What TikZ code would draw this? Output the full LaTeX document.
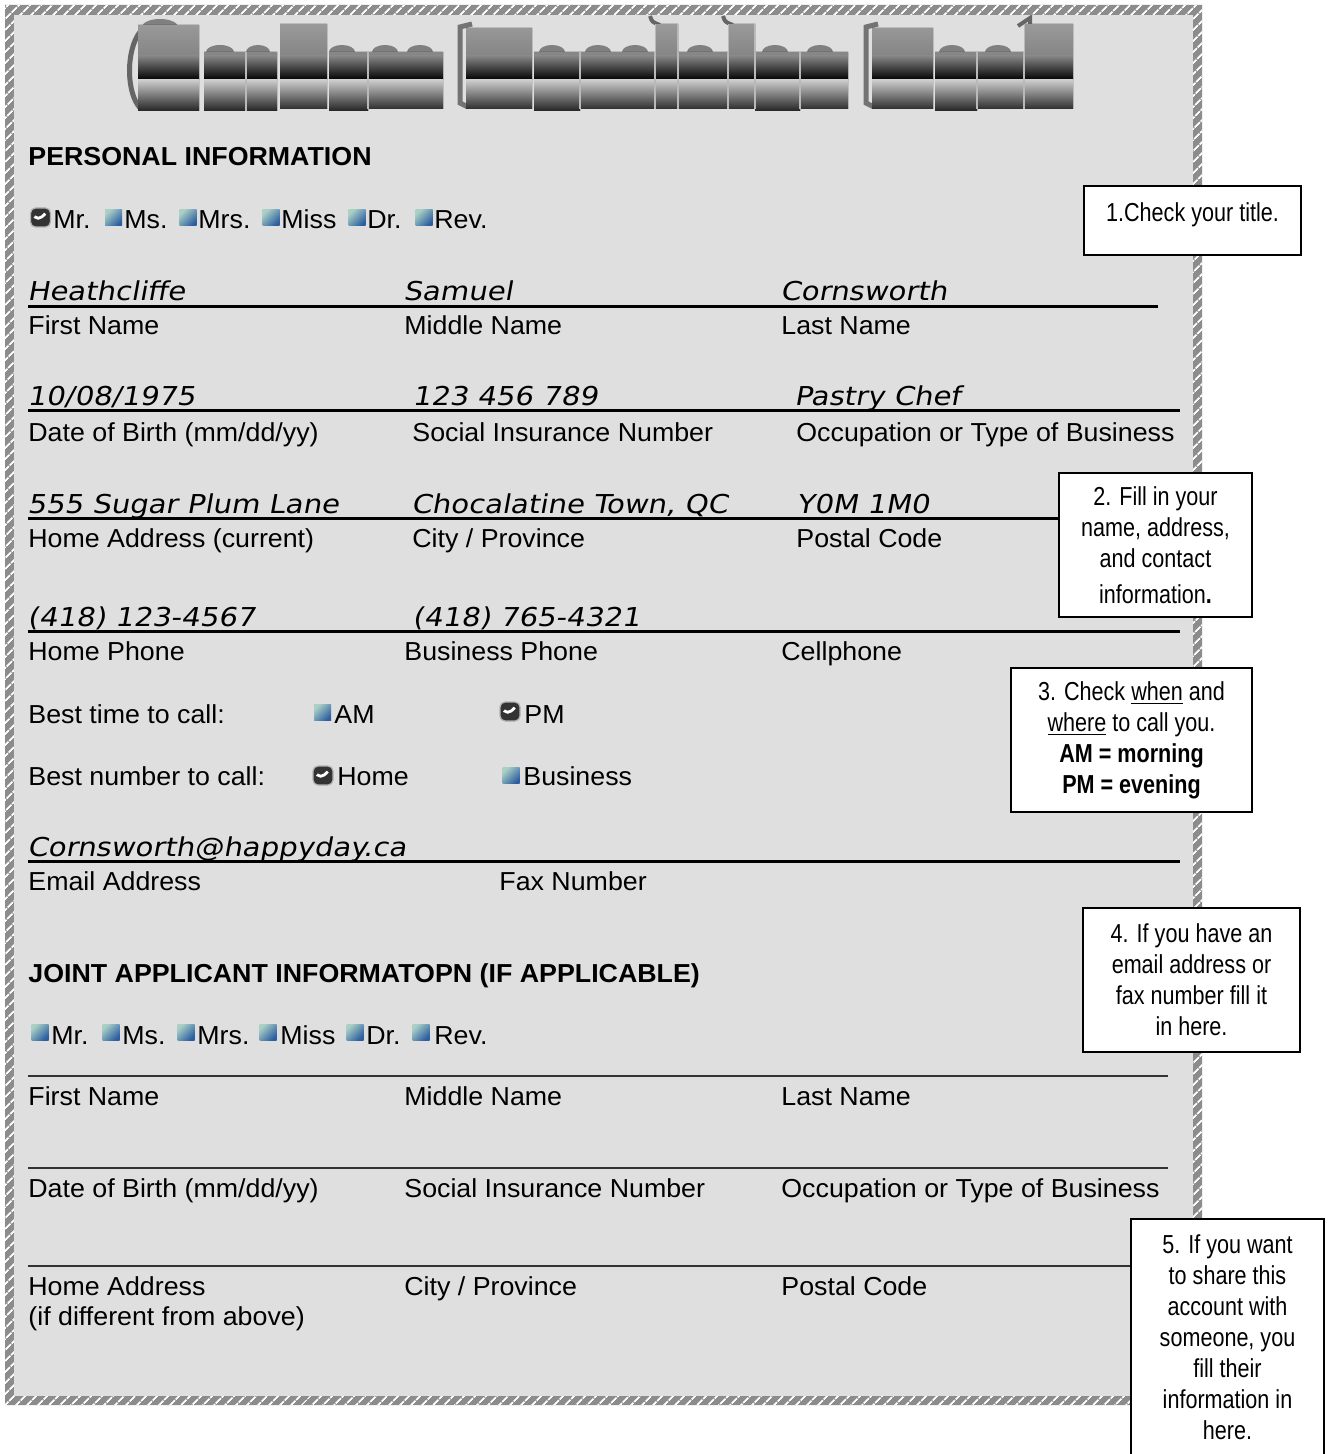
\documentclass[tikz,border=0pt]{standalone}
\usepackage{fontspec}
\setmainfont[FakeStretch=1.03]{Liberation Sans}
\newfontfamily\handfont[FakeSlant=0.18,FakeStretch=1.12]{DejaVu Sans}
\newfontfamily\narrowfont[FakeStretch=0.83]{Liberation Sans}
\usepackage{tikz}
\usetikzlibrary{patterns.meta}
\definecolor{formgray}{RGB}{223,223,223}
\definecolor{hatchgray}{RGB}{140,140,140}
\definecolor{boxlight}{RGB}{170,208,198}
\definecolor{boxdark}{RGB}{45,95,160}

\begin{document}
\begin{tikzpicture}[x=0.5pt, y=-0.5pt, inner sep=0pt,
        label_style/.style={anchor=base west, font=\fontsize{13pt}{15.5pt}\selectfont},
        heading_style/.style={anchor=base west, font=\fontsize{13pt}{15.5pt}\selectfont\bfseries},
        entry_style/.style={anchor=base west, font=\handfont\fontsize{13pt}{15.5pt}\selectfont},
        box_on_style/.style={rectangle, rounded corners=2.5pt, minimum width=10pt, minimum height=9.5pt,
            fill=black!80, draw=gray!60, line width=0.6pt,
            path picture={\draw[white, line width=1.4pt, line join=miter]
                ([xshift=-3pt, yshift=0.4pt]path picture bounding box.center)
                -- ++(1.8pt,-1.8pt) -- ++(3.6pt,3.3pt);}},
        box_off_style/.style={rectangle, minimum width=8.5pt, minimum height=8pt,
            top color=boxlight, bottom color=boxdark, shading angle=45},
        tip_style/.style={draw=black, line width=1pt, fill=white, align=center,
            font=\narrowfont\fontsize{13pt}{15.5pt}\selectfont},
        field_line/.style={draw=black, line width=1.5pt},
        blank_line/.style={draw=black!80, line width=0.9pt},
        art_gap/.style={draw=gray!55, line width=0.7pt}]

        \useasboundingbox[fill=white] (0,0) rectangle (1327,1454);

        \fill[hatchgray, even odd rule] (5,5) rectangle (1202,1405) (14,15) rectangle (1193,1396);
        \fill[pattern={Lines[angle=45,distance=4pt,line width=1pt]}, pattern color=white, even odd rule]
            (5,5) rectangle (1202,1405) (14,15) rectangle (1193,1396);
        \fill[formgray] (14,15) rectangle (1193,1396);

        \fill[black!50] (220,52) ellipse (14 and 7) (258,52) ellipse (12 and 7) (342,52) ellipse (13 and 7)
            (385,52) ellipse (13 and 7) (420,52) ellipse (13 and 7) (552,52) ellipse (13 and 7)
            (598,52) ellipse (13 and 7) (635,52) ellipse (13 and 7) (700,52) ellipse (13 and 7)
            (775,52) ellipse (13 and 7) (820,52) ellipse (13 and 7) (952,52) ellipse (13 and 7)
            (998,52) ellipse (13 and 7) (160,27) ellipse (18 and 8);
        \draw[black!60, line width=2.5pt] (140,32) .. controls (126,50) and (126,92) .. (140,108);
        \draw[black!55, line width=2.5pt] (472,24) -- (460,27) -- (460,103) -- (468,107);
        \draw[black!55, line width=2.5pt] (878,24) -- (866,27) -- (866,103) -- (874,107);
        \draw[black!60, line width=2pt] (650,16) .. controls (652,22) .. (660,25);
        \draw[black!60, line width=2pt] (723,16) .. controls (725,22) .. (733,25);
        \draw[black!60, line width=2pt] (1018,26) -- (1030,18) -- (1030,30);
        \begin{scope}
            \clip (138,25) rectangle (199,111) (204,52) rectangle (246,111) (246,52) rectangle (277,111)
                (280,24) rectangle (327,109) (329,52) rectangle (368,111) (368,52) rectangle (443,109)
                (466,28) rectangle (532,109) (534,52) rectangle (580,111) (580,52) rectangle (655,109)
                (655,24) rectangle (678,109) (678,52) rectangle (728,109) (728,24) rectangle (755,109)
                (755,52) rectangle (800,111) (800,52) rectangle (848,109) (872,28) rectangle (933,109)
                (935,52) rectangle (977,111) (977,52) rectangle (1024,109) (1024,24) rectangle (1073,109);
            \fill[top color=black!38, bottom color=black!48] (130,18) rectangle (1080,56);
            \fill[top color=black!48, bottom color=black] (130,56) rectangle (1080,80);
            \fill[top color=black!20, bottom color=black!88] (130,80) rectangle (1080,112);
            \draw[art_gap] (246,52) -- (246,111) (368,52) -- (368,109) (580,52) -- (580,109)
                (655,24) -- (655,109) (678,24) -- (678,109) (728,24) -- (728,109) (755,24) -- (755,109)
                (800,52) -- (800,109) (977,52) -- (977,109) (1024,24) -- (1024,109);
        \end{scope}

        \node[heading_style] (head1) at (28,166) {PERSONAL INFORMATION};

        \node[box_on_style] (b_mr) at (40.5,217.5) {};
        \node[label_style] (t_mr) at (53,229) {Mr.};
        \node[box_off_style] (b_ms) at (113.5,217.5) {};
        \node[label_style] (t_ms) at (124,229) {Ms.};
        \node[box_off_style] (b_mrs) at (188,217.5) {};
        \node[label_style] (t_mrs) at (198,229) {Mrs.};
        \node[box_off_style] (b_miss) at (271,217.5) {};
        \node[label_style] (t_miss) at (281,229) {Miss};
        \node[box_off_style] (b_dr) at (357,217.5) {};
        \node[label_style] (t_dr) at (367,229) {Dr.};
        \node[box_off_style] (b_rev) at (424,217.5) {};
        \node[label_style] (t_rev) at (434,229) {Rev.};

        \node[entry_style] (e_first) at (27,301) {Heathcliffe};
        \node[entry_style] (e_middle) at (403,301) {Samuel};
        \node[entry_style] (e_last) at (780,301) {Cornsworth};
        \draw[field_line] (28,307) -- (1158,307);
        \node[label_style] (l_first) at (28,335) {First Name};
        \node[label_style] (l_middle) at (404,335) {Middle Name};
        \node[label_style] (l_last) at (781,335) {Last Name};

        \node[entry_style] (e_birth) at (27,406) {10/08/1975};
        \node[entry_style] (e_sin) at (412,406) {123 456 789};
        \node[entry_style] (e_job) at (794,406) {Pastry Chef};
        \draw[field_line] (28,411) -- (1180,411);
        \node[label_style] (l_birth) at (28,442) {Date of Birth (mm/dd/yy)};
        \node[label_style] (l_sin) at (412,442) {Social Insurance Number};
        \node[label_style] (l_job) at (796,442) {Occupation or Type of Business};

        \node[entry_style] (e_address) at (27,513) {555 Sugar Plum Lane};
        \node[entry_style] (e_city) at (411,513) {Chocalatine Town, QC};
        \node[entry_style] (e_postal) at (796,513) {Y0M 1M0};
        \draw[field_line] (28,518) -- (1180,518);
        \node[label_style] (l_address) at (28,547) {Home Address (current)};
        \node[label_style] (l_city) at (412,547) {City / Province};
        \node[label_style] (l_postal) at (796,547) {Postal Code};

        \node[entry_style] (e_home) at (27,626) {(418) 123-4567};
        \node[entry_style] (e_work) at (412,626) {(418) 765-4321};
        \draw[field_line] (28,631) -- (1180,631);
        \node[label_style] (l_home) at (28,660) {Home Phone};
        \node[label_style] (l_work) at (404,660) {Business Phone};
        \node[label_style] (l_cell) at (781,660) {Cellphone};

        \node[label_style] (l_time) at (28,723) {Best time to call:};
        \node[box_off_style] (b_am) at (322.5,712.5) {};
        \node[label_style] (t_am) at (334,723) {AM};
        \node[box_on_style] (b_pm) at (510,711.5) {};
        \node[label_style] (t_pm) at (524,723) {PM};

        \node[label_style] (l_number) at (28,785) {Best number to call:};
        \node[box_on_style] (b_home) at (323,775.5) {};
        \node[label_style] (t_home) at (337,785) {Home};
        \node[box_off_style] (b_business) at (511,775.5) {};
        \node[label_style] (t_business) at (523,785) {Business};

        \node[entry_style] (e_email) at (27,856) {Cornsworth@happyday.ca};
        \draw[field_line] (28,861) -- (1180,861);
        \node[label_style] (l_email) at (28,890) {Email Address};
        \node[label_style] (l_fax) at (499,890) {Fax Number};

        \node[heading_style] (head2) at (28,982) {JOINT APPLICANT INFORMATOPN (IF APPLICABLE)};

        \node[box_off_style] (j_mr) at (40,1032) {};
        \node[label_style] (jt_mr) at (51,1044) {Mr.};
        \node[box_off_style] (j_ms) at (111,1032) {};
        \node[label_style] (jt_ms) at (122,1044) {Ms.};
        \node[box_off_style] (j_mrs) at (186,1032) {};
        \node[label_style] (jt_mrs) at (197,1044) {Mrs.};
        \node[box_off_style] (j_miss) at (268,1032) {};
        \node[label_style] (jt_miss) at (280,1044) {Miss};
        \node[box_off_style] (j_dr) at (355,1032) {};
        \node[label_style] (jt_dr) at (366,1044) {Dr.};
        \node[box_off_style] (j_rev) at (421,1032) {};
        \node[label_style] (jt_rev) at (434,1044) {Rev.};

        \draw[blank_line] (28,1076) -- (1168,1076);
        \node[label_style] (j_first) at (28,1105) {First Name};
        \node[label_style] (j_middle) at (404,1105) {Middle Name};
        \node[label_style] (j_last) at (781,1105) {Last Name};

        \draw[blank_line] (28,1168) -- (1168,1168);
        \node[label_style] (j_birth) at (28,1197) {Date of Birth (mm/dd/yy)};
        \node[label_style] (j_sin) at (404,1197) {Social Insurance Number};
        \node[label_style] (j_job) at (781,1197) {Occupation or Type of Business};

        \draw[blank_line] (28,1266) -- (1168,1266);
        \node[label_style] (j_address) at (28,1295) {Home Address};
        \node[label_style] (j_address2) at (28,1325) {(if different from above)};
        \node[label_style] (j_city) at (404,1295) {City / Province};
        \node[label_style] (j_postal) at (781,1295) {Postal Code};

        \node[tip_style, align=left, anchor=north west, minimum width=108.5pt, text height=18pt, text depth=16.5pt,
            inner xsep=10pt] (tip1) at (1083,185) {1.Check your title.};

        \node[tip_style, minimum width=96.5pt, minimum height=72pt] (tip2) at (1155.5,545)
            {2. Fill in your\\ name, address,\\ and contact\\[2.5pt] information\textbf{.}};

        \node[tip_style, minimum width=120.5pt, minimum height=72pt] (tip3) at (1131.5,740)
            {3. Check \underline{when} and\\ \underline{where} to call you.\\ \textbf{AM = morning}\\ \textbf{PM = evening}};

        \node[tip_style, minimum width=108.5pt, minimum height=72pt] (tip4) at (1191.5,980)
            {4. If you have an\\ email address or\\ fax number fill it\\ in here.};

        \node[tip_style, minimum width=96.5pt, minimum height=118.5pt] (tip5) at (1227.5,1337.5)
            {5. If you want\\ to share this\\ account with\\ someone, you\\ fill their\\ information in\\ here.};

\end{tikzpicture}
\end{document}
